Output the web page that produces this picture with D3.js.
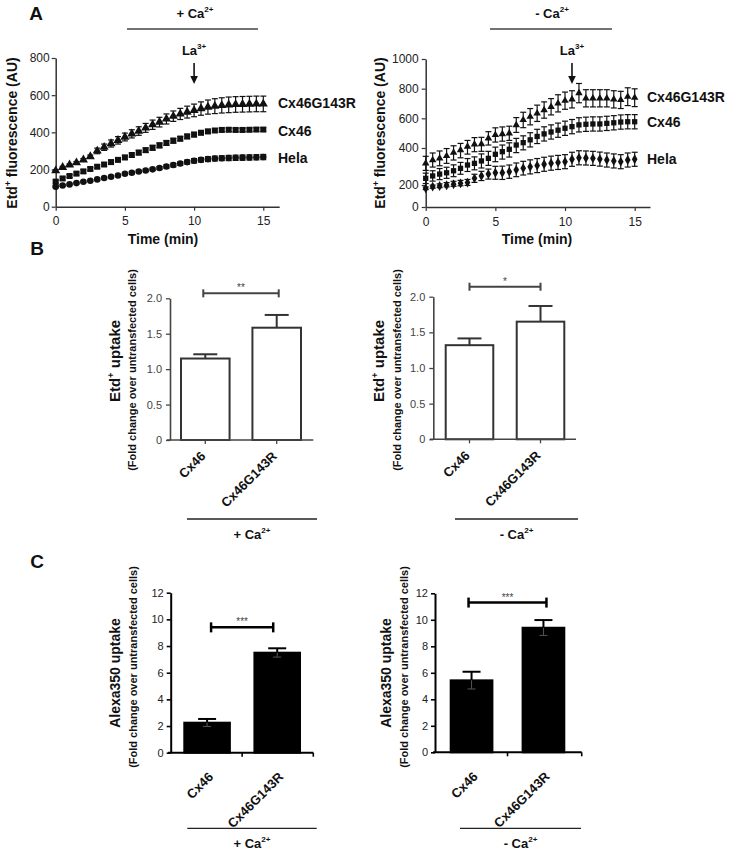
<!DOCTYPE html>
<html>
<head>
<meta charset="utf-8">
<script src="https://cdn.jsdelivr.net/npm/d3@7"></script>
<style>
  body { margin: 0; background: #fff; }
  svg { display: block; }
</style>
</head>
<body>
<svg id="fig" width="729" height="853"></svg>
<script>
// ---- data -------------------------------------------------------------
var timeMin = [0,0.5,1,1.5,2,2.5,3,3.5,4,4.5,5,5.5,6,6.5,7,7.5,8,8.5,9,9.5,10,10.5,11,11.5,12,12.5,13,13.5,14,14.5,15];

// + Ca2+
var plusHela     = [108,114,120,127,134,140,147,154,161,168,177,183,189,195,201,208,216,224,232,240,247,252,256,259,261,262,263,264,265,266,267];
var plusHelaErr  = [4,4,4,4,4,4,5,5,5,5,5,6,6,6,7,8,9,10,10,11,12,12,13,13,13,14,14,14,14,14,14];
var plusCx46     = [135,152,165,178,190,203,215,227,240,252,265,278,291,304,317,330,343,355,366,378,388,398,405,410,413,414,413,413,414,415,415];
var plusCx46Err  = [8,8,8,8,9,9,9,10,10,10,11,11,12,12,13,13,13,13,12,12,12,11,11,10,10,10,10,10,10,10,10];
var plusG143R    = [194,212,225,237,252,270,300,320,340,357,375,392,407,424,441,455,472,487,499,509,518,528,536,541,545,548,550,551,552,553,553];
var plusG143RErr = [5,5,5,6,7,8,15,17,19,20,21,22,23,24,25,26,27,28,30,32,34,36,38,40,41,42,42,42,42,42,42];

// - Ca2+
var minusHela     = [170,185,191,198,204,209,213,236,249,259,266,266,272,282,291,298,305,312,318,322,326,339,347,346,344,340,335,330,326,335,339];
var minusHelaErr  = [12,14,15,15,16,16,17,22,25,27,35,36,36,37,37,38,38,38,38,38,38,38,38,38,38,38,38,38,38,38,38];
var minusCx46     = [236,249,259,266,277,290,308,317,330,344,366,380,393,420,436,455,478,495,508,520,533,544,556,560,562,562,566,570,575,577,577];
var minusCx46Err  = [28,28,30,30,32,32,35,35,38,38,40,40,42,45,46,48,48,48,48,48,48,48,48,48,48,48,48,48,48,48,48];
var minusG143R    = [317,335,344,357,375,389,409,425,427,465,488,494,499,555,589,611,634,656,678,701,719,728,770,735,735,735,735,728,724,746,739];
var minusG143RErr = [38,38,40,40,40,42,42,45,45,45,48,48,48,50,52,55,55,55,55,58,58,58,65,58,58,58,58,58,58,60,60];

var laTime = [10, 10.5];   // La3+ addition (min)

var barCats = ["Cx46", "Cx46G143R"];
var etdPlus = [1.15, 1.585],   etdPlusErr = [0.06, 0.18];
var etdMinus = [1.32, 1.65],   etdMinusErr = [0.095, 0.22];
var alexaPlus = [2.25, 7.5],   alexaPlusErr = [0.28, 0.33];
var alexaMinus = [5.43, 9.4],  alexaMinusErr = [0.65, 0.58];

var etdTicks = [0, 0.5, 1, 1.5, 2];
var alexaTicks = [0, 2, 4, 6, 8, 10, 12];

// ---- helpers ----------------------------------------------------------
var FONT = '"Liberation Sans", Arial, Helvetica, sans-serif';
var svg = d3.select("#fig").attr("font-family", FONT);

// parts: strings, or [string] for a superscript piece
function txt(g, x, y, parts, o) {
    o = o || {};
    var fs = o.size || 12;
    var t = g.append("text")
        .attr("font-size", fs)
        .attr("font-weight", o.bold ? "bold" : "normal")
        .attr("fill", o.fill || "#111")
        .attr("text-anchor", o.anchor || "middle")
        .attr("dy", "0.35em");
    if (o.rotate) t.attr("transform", "translate(" + x + "," + y + ") rotate(" + o.rotate + ")");
    else t.attr("x", x).attr("y", y);
    if (typeof parts === "string") parts = [parts];
    var up = false;
    parts.forEach(function (p) {
        var sup = Array.isArray(p);
        var s = t.append("tspan").text(sup ? p[0] : p);
        if (sup) { s.attr("font-size", fs * 0.62).attr("dy", -fs * 0.42); up = true; }
        else if (up) { s.attr("dy", fs * 0.42); up = false; }
    });
    return t;
}

function styleAxis(a, col, w, fs, fill) {
    a.attr("font-family", FONT).attr("font-size", fs);
    a.select(".domain").attr("stroke", col).attr("stroke-width", w);
    a.selectAll(".tick line").attr("stroke", col).attr("stroke-width", w * 0.8);
    a.selectAll(".tick text").attr("fill", fill);
}

function timecourse(o) {
    var g = svg.append("g");
    var x = d3.scaleLinear().domain([0, o.xMax]).range(o.xRange);
    var y = d3.scaleLinear().domain(o.yDomain).range(o.yRange);

    var ax = g.append("g").attr("transform", "translate(0," + y(0) + ")")
        .call(d3.axisBottom(x).tickValues([0, 5, 10, 15]).tickSize(4).tickPadding(6).tickSizeOuter(0));
    styleAxis(ax, "#333", 1.5, 12, "#222");
    var ay = g.append("g").attr("transform", "translate(" + x(0) + ",0)")
        .call(d3.axisLeft(y).tickValues(o.yTicks).tickFormat(d3.format("d"))
            .tickSize(4).tickPadding(o.yPad).tickSizeOuter(0));
    styleAxis(ay, "#333", 1.5, 12, "#222");

    o.series.forEach(function (s) {
        var pts = timeMin.map(function (t, i) { return { t: t, v: s.mean[i], e: s.err[i] }; });
        var eb = g.append("g").attr("stroke", "#111").attr("stroke-width", 1.2)
            .selectAll("g").data(pts).join("g");
        eb.append("line")
            .attr("x1", function (d) { return x(d.t); }).attr("x2", function (d) { return x(d.t); })
            .attr("y1", function (d) { return y(d.v - d.e); }).attr("y2", function (d) { return y(d.v + d.e); });
        [1, -1].forEach(function (sg) {
            eb.append("line")
                .attr("x1", function (d) { return x(d.t) - 3; }).attr("x2", function (d) { return x(d.t) + 3; })
                .attr("y1", function (d) { return y(d.v + sg * d.e); }).attr("y2", function (d) { return y(d.v + sg * d.e); });
        });
        g.append("g").selectAll("path").data(pts).join("path")
            .attr("transform", function (d) { return "translate(" + x(d.t) + "," + y(d.v) + ")"; })
            .attr("d", d3.symbol(s.shape, s.size))
            .attr("fill", "#111");
        txt(g, o.labelX, y(s.mean[s.mean.length - 1]) + s.dl, s.name, { size: 14, bold: true, anchor: "start" });
    });

    // La3+ arrow
    var ax0 = x(o.la);
    txt(g, ax0, 50, ["La", ["3+"]], { size: 13, bold: true });
    g.append("line").attr("x1", ax0).attr("x2", ax0).attr("y1", 63).attr("y2", 78)
        .attr("stroke", "#111").attr("stroke-width", 1.6);
    g.append("path").attr("d", "M" + (ax0 - 3.8) + ",76 L" + (ax0 + 3.8) + ",76 L" + ax0 + ",84 Z").attr("fill", "#111");

    // condition header
    txt(g, o.head[0], 13, o.headText, { size: 13, bold: true });
    g.append("line").attr("x1", o.head[1]).attr("x2", o.head[2]).attr("y1", 29).attr("y2", 29)
        .attr("stroke", "#444").attr("stroke-width", 1.5);

    txt(g, o.yTitle[0], o.yTitle[1], ["Etd", ["+"], " fluorescence (AU)"], { size: 14, bold: true, rotate: -90 });
    txt(g, o.xTitle, 239, "Time (min)", { size: 14, bold: true });
}

function barPanel(o) {
    var g = svg.append("g");
    var x = d3.scaleBand().domain(barCats).range(o.barRange).paddingInner(o.pad);
    var y = d3.scaleLinear().domain([0, o.ticks[o.ticks.length - 1]]).range(o.yRange);
    var cx = function (c) { return x(c) + x.bandwidth() / 2; };
    var rows = barCats.map(function (c, i) { return { c: c, v: o.values[i], e: o.err[i] }; });

    // bars
    g.append("g").selectAll("rect").data(rows).join("rect")
        .attr("x", function (d) { return x(d.c); }).attr("width", x.bandwidth())
        .attr("y", function (d) { return y(d.v); }).attr("height", function (d) { return y(0) - y(d.v); })
        .attr("fill", o.fill).attr("stroke", o.stroke).attr("stroke-width", o.sw);

    // error bars (upper half, lower half faint inside the bar)
    var eg = g.append("g").attr("stroke", o.stroke).attr("stroke-width", o.sw);
    eg.selectAll("line.up").data(rows).join("line").attr("class", "up")
        .attr("x1", function (d) { return cx(d.c); }).attr("x2", function (d) { return cx(d.c); })
        .attr("y1", function (d) { return y(d.v); }).attr("y2", function (d) { return y(d.v + d.e); });
    eg.selectAll("line.cap").data(rows).join("line").attr("class", "cap")
        .attr("x1", function (d) { return cx(d.c) - o.cap / 2; }).attr("x2", function (d) { return cx(d.c) + o.cap / 2; })
        .attr("y1", function (d) { return y(d.v + d.e); }).attr("y2", function (d) { return y(d.v + d.e); });
    if (o.inner) {
        var ig = g.append("g").attr("stroke", "#555").attr("stroke-width", 1);
        ig.selectAll("line.dn").data(rows).join("line").attr("class", "dn")
            .attr("x1", function (d) { return cx(d.c); }).attr("x2", function (d) { return cx(d.c); })
            .attr("y1", function (d) { return y(d.v); }).attr("y2", function (d) { return y(d.v - d.e); });
        ig.selectAll("line.dc").data(rows).join("line").attr("class", "dc")
            .attr("x1", function (d) { return cx(d.c) - 4; }).attr("x2", function (d) { return cx(d.c) + 4; })
            .attr("y1", function (d) { return y(d.v - d.e); }).attr("y2", function (d) { return y(d.v - d.e); });
    }

    // axes
    var ay = g.append("g").attr("transform", "translate(" + o.axisX + ",0)")
        .call(d3.axisLeft(y).tickValues(o.ticks).tickSize(4).tickPadding(o.yPad).tickSizeOuter(0)
            .tickFormat(o.fmt));
    styleAxis(ay, o.axisCol, o.axisW, 11, o.tickFill);
    g.append("line").attr("x1", o.xAxis[0]).attr("x2", o.xAxis[1]).attr("y1", y(0)).attr("y2", y(0))
        .attr("stroke", o.axisCol).attr("stroke-width", o.axisW);
    var tickXs = o.midTicks
        ? [x(barCats[1]) - x.step() * x.paddingInner() / 2, o.xAxis[1]]
        : barCats.map(cx);
    g.append("g").selectAll("line").data(tickXs).join("line")
        .attr("x1", function (d) { return d; }).attr("x2", function (d) { return d; })
        .attr("y1", y(0)).attr("y2", y(0) + 4)
        .attr("stroke", o.axisCol).attr("stroke-width", o.axisW * 0.8);

    // category labels
    rows.forEach(function (d) {
        g.append("text")
            .attr("transform", "translate(" + (cx(d.c) + o.lab[0]) + "," + (y(0) + o.lab[1]) + ") rotate(-45)")
            .attr("text-anchor", "end").attr("font-size", 13).attr("font-weight", "bold").attr("fill", "#111")
            .text(d.c);
    });

    // significance bracket
    var by = y(o.sig.y), bx0 = cx(barCats[0]) + o.sig.inset, bx1 = cx(barCats[1]) - o.sig.inset;
    var bg = g.append("g").attr("stroke", o.sig.col).attr("stroke-width", o.sig.w);
    bg.append("line").attr("x1", bx0).attr("x2", bx1).attr("y1", by).attr("y2", by);
    [bx0, bx1].forEach(function (bx) {
        bg.append("line").attr("x1", bx).attr("x2", bx).attr("y1", by - o.sig.h).attr("y2", by + o.sig.h);
    });
    g.append("text").attr("x", (bx0 + bx1) / 2).attr("y", by - 2).attr("text-anchor", "middle")
        .attr("font-size", 10).attr("fill", "#444").text(o.sig.label);

    // titles
    txt(g, o.title[0], o.title[1], o.titleText, { size: o.titleSize, bold: true, rotate: -90 });
    txt(g, o.sub[0], o.sub[1], "(Fold change over untransfected cells)", { size: 11, bold: true, rotate: -90 });

    // condition underline
    g.append("line").attr("x1", o.cond[0]).attr("x2", o.cond[1]).attr("y1", o.cond[2]).attr("y2", o.cond[2])
        .attr("stroke", "#222").attr("stroke-width", 1.3);
    txt(g, (o.cond[0] + o.cond[1]) / 2, o.cond[2] + 15, o.condText, { size: 13, bold: true });
}

// ---- panel A ------------------------------------------------------------
timecourse({
    xMax: 16.15, xRange: [55.7, 279.2],
    yDomain: [0, 800], yRange: [206.7, 58], yTicks: [0, 200, 400, 600, 800], yPad: 2,
    la: laTime[0], labelX: 278,
    head: [195, 127, 258], headText: ["+ Ca", ["2+"]],
    yTitle: [12, 133], xTitle: 163,
    series: [
        { name: "Cx46G143R", mean: plusG143R, err: plusG143RErr, shape: d3.symbolTriangle, size: 36, dl: -1 },
        { name: "Cx46", mean: plusCx46, err: plusCx46Err, shape: d3.symbolSquare, size: 36, dl: 2 },
        { name: "Hela", mean: plusHela, err: plusHelaErr, shape: d3.symbolCircle, size: 34, dl: 1 }
    ]
});

timecourse({
    xMax: 16.1, xRange: [425.7, 650],
    yDomain: [0, 200, 400, 1000], yRange: [207, 185, 148, 59], yTicks: [0, 200, 400, 600, 800, 1000], yPad: 3,
    la: laTime[1], labelX: 647,
    head: [552, 490, 612], headText: ["- Ca", ["2+"]],
    yTitle: [380, 133], xTitle: 537,
    series: [
        { name: "Cx46G143R", mean: minusG143R, err: minusG143RErr, shape: d3.symbolTriangle, size: 24, dl: -1 },
        { name: "Cx46", mean: minusCx46, err: minusCx46Err, shape: d3.symbolSquare, size: 28, dl: 0 },
        { name: "Hela", mean: minusHela, err: minusHelaErr, shape: d3.symbolDiamond, size: 28, dl: 0 }
    ]
});

txt(svg, 36, 13, "A", { size: 19, bold: true });
txt(svg, 37, 248, "B", { size: 19, bold: true });
txt(svg, 37, 561, "C", { size: 19, bold: true });

// ---- panel B ------------------------------------------------------------
var etdFmt = function (d) { return d === 0 ? "0" : d3.format(".1f")(d); };
var etdBase = {
    ticks: etdTicks, fmt: etdFmt, fill: "#fff", stroke: "#333", sw: 2, cap: 24,
    axisCol: "#444", axisW: 1.6, tickFill: "#444", midTicks: false, inner: false,
    titleText: ["Etd", ["+"], " uptake"], titleSize: 15, lab: [1, 17]
};
barPanel(Object.assign({}, etdBase, {
    values: etdPlus, err: etdPlusErr,
    barRange: [181, 301], pad: 0.32, yRange: [440, 298.3], axisX: 170, yPad: 4, xAxis: [166.7, 313.3],
    sig: { y: 2.07, inset: -2, col: "#444", w: 2, h: 4, label: "**" },
    title: [115, 361], sub: [132, 370],
    cond: [187, 317, 519], condText: ["+ Ca", ["2+"]]
}));
barPanel(Object.assign({}, etdBase, {
    values: etdMinus, err: etdMinusErr,
    barRange: [445.7, 564.3], pad: 0.33, yRange: [439.3, 296.7], axisX: 433.3, yPad: 4, xAxis: [430, 576],
    sig: { y: 2.14, inset: 0, col: "#444", w: 2, h: 4, label: "*" },
    title: [379, 361], sub: [397, 370],
    cond: [455, 578, 519], condText: ["- Ca", ["2+"]]
}));

// ---- panel C ------------------------------------------------------------
var alexaBase = {
    ticks: alexaTicks, fmt: d3.format("d"), fill: "#000", stroke: "#000", sw: 2, cap: 18,
    axisCol: "#000", axisW: 2, tickFill: "#222", midTicks: true, inner: true,
    titleText: "Alexa350 uptake", titleSize: 14, lab: [7, 25]
};
barPanel(Object.assign({}, alexaBase, {
    values: alexaPlus, err: alexaPlusErr,
    barRange: [184.3, 300], pad: 0.35, yRange: [752.7, 592.7], axisX: 170.7, yPad: 3, xAxis: [168, 313.3],
    sig: { y: 9.4, inset: 4, col: "#000", w: 2.5, h: 5, label: "***" },
    title: [115, 673], sub: [133, 667],
    cond: [187.3, 316.7, 828.3], condText: ["+ Ca", ["2+"]]
}));
barPanel(Object.assign({}, alexaBase, {
    values: alexaMinus, err: alexaMinusErr,
    barRange: [450.7, 564.3], pad: 0.42, yRange: [752.3, 593.3], axisX: 435, yPad: 3, xAxis: [433, 581.7],
    sig: { y: 11.3, inset: -3, col: "#000", w: 2.5, h: 5, label: "***" },
    title: [386, 673], sub: [404, 667],
    cond: [460, 581, 828.3], condText: ["- Ca", ["2+"]]
}));
</script>
</body>
</html>
